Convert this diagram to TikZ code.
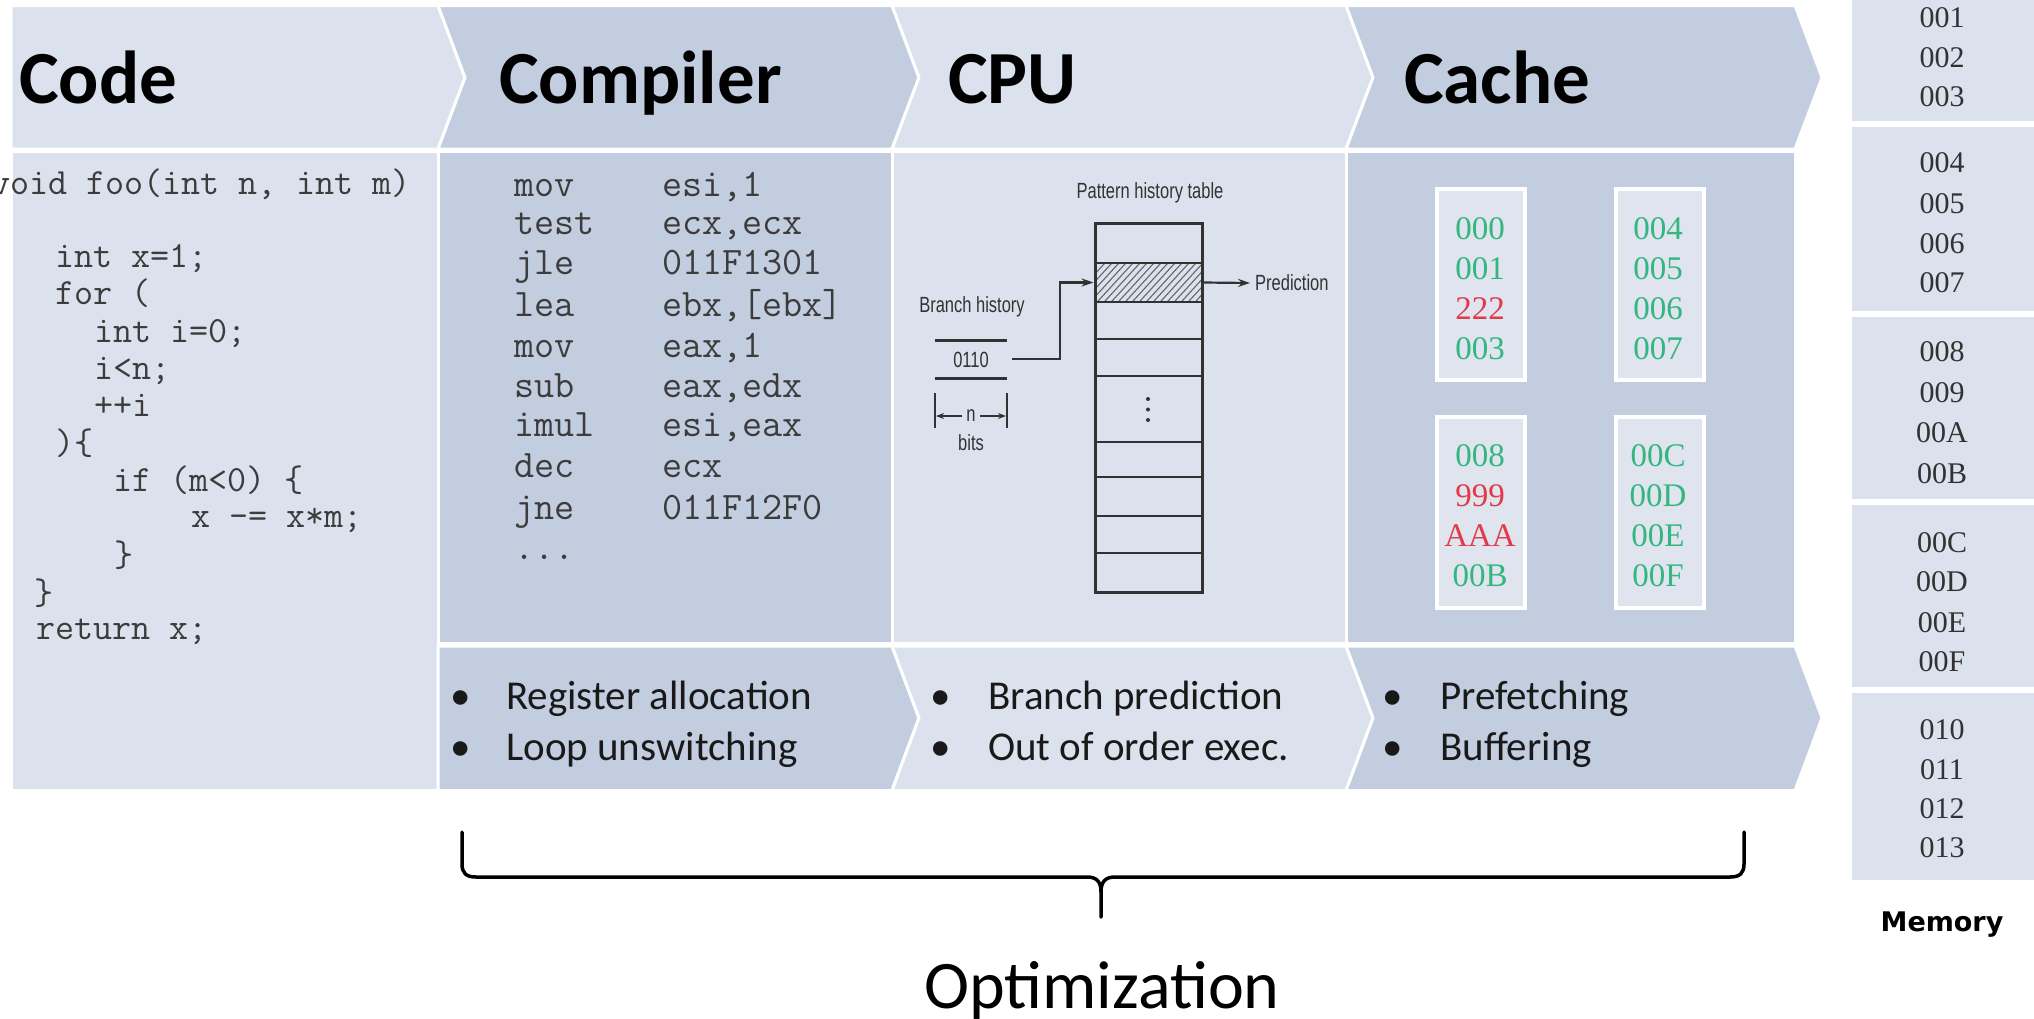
\documentclass[tikz,border=0pt]{standalone}
\usepackage{fontspec}
\setmainfont{Liberation Serif}
\newfontfamily\calibri{Carlito}
\newfontfamily\serifd{Liberation Serif}
\newfontfamily\verd{DejaVu Sans}
\newfontfamily\condsans[FakeStretch=0.75]{Liberation Sans}
\usetikzlibrary{arrows.meta}
\definecolor{lightpane}{RGB}{220,226,237}
\definecolor{darkpane}{RGB}{195,205,224}
\definecolor{boxfill}{RGB}{223,228,239}
\definecolor{codegray}{RGB}{60,60,60}
\definecolor{hexgreen}{RGB}{52,182,128}
\definecolor{hexred}{RGB}{226,58,72}
\definecolor{figgray}{RGB}{50,50,50}
\definecolor{memtext}{RGB}{50,50,50}
\begin{document}
\begin{tikzpicture}[x=1pt,y=-1pt,
  pane/.style={draw=white,line width=3pt,line join=miter},
  lightp/.style={pane,fill=lightpane},
  darkp/.style={pane,fill=darkpane},
  hdr/.style={anchor=base west,inner sep=0pt,text=black,font=\calibri\bfseries\fontsize{75}{90}\selectfont},
  codeline/.style={anchor=west,inner sep=0pt,text height=23pt,text depth=4.4pt,text=codegray,font=\ttfamily\fontsize{37}{43}\selectfont},
  asmline/.style={anchor=west,inner sep=0pt,text height=24pt,text depth=4.7pt,text=codegray,font=\ttfamily\fontsize{39}{45}\selectfont},
  bulletmark/.style={anchor=base west,inner sep=0pt,text=black!90,font=\calibri\fontsize{41}{49}\selectfont},
  bullettext/.style={anchor=base west,inner sep=0pt,text=black!90,font=\calibri\fontsize{41}{49}\selectfont},
  figlabel/.style={inner sep=0pt,text=figgray,font=\condsans\fontsize{22}{26}\selectfont},
  figline/.style={draw=figgray,line width=2.2pt},
  figarrow/.style={figline,-{Stealth[length=12pt,width=8pt]}},
  smallarrow/.style={draw=figgray,line width=1.5pt,-{Stealth[length=8pt,width=6pt]}},
  cachebox/.style={draw=white,line width=3.5pt,fill=boxfill,minimum width=88pt,minimum height=191pt,inner sep=0pt},
  hexnum/.style={inner sep=0pt,text height=22.4pt,text depth=0pt,font=\serifd\fontsize{33}{40}\selectfont},
  memblock/.style={fill=lightpane},
  memnum/.style={inner sep=0pt,text height=20.4pt,text depth=0pt,text=memtext,font=\serifd\fontsize{30}{36}\selectfont},
  bracestyle/.style={draw=black,line width=3.5pt,line cap=round,line join=round}
]
\useasboundingbox (0,0) rectangle (2034,1018);
\clip (0,0) rectangle (2034,1018);

% ---------- header row ----------
\path[lightp] (11,5.5) -- (438,5.5) -- (465,77.5) -- (438,149) -- (11,149) -- cycle;
\path[darkp] (438,5.5) -- (892,5.5) -- (919,77.5) -- (892,149) -- (438,149) -- (465,77.5) -- cycle;
\path[lightp] (892,5.5) -- (1346,5.5) -- (1373,77.5) -- (1346,149) -- (892,149) -- (919,77.5) -- cycle;
\path[darkp] (1346,5.5) -- (1795,5.5) -- (1822,77.5) -- (1795,149) -- (1346,149) -- (1373,77.5) -- cycle;

% ---------- content row ----------
\path[lightp] (11,151.5) rectangle (438,790.5);
\path[darkp] (438,151.5) rectangle (892,643.5);
\path[lightp] (892,151.5) rectangle (1346,643.5);
\path[darkp] (1346,151.5) rectangle (1795,643.5);

% ---------- bottom row ----------
\path[darkp] (438,646) -- (892,646) -- (919,718) -- (892,790.5) -- (438,790.5) -- cycle;
\path[lightp] (892,646) -- (1346,646) -- (1373,718) -- (1346,790.5) -- (892,790.5) -- (919,718) -- cycle;
\path[darkp] (1346,646) -- (1795,646) -- (1822,718) -- (1795,790.5) -- (1346,790.5) -- (1373,718) -- cycle;

% ---------- headers ----------
\node[hdr] (hcode) at (19,103) {Code};
\node[hdr] (hcomp) at (499,103) {Compiler};
\node[hdr] (hcpu) at (948,103) {CPU};
\node[hdr] (hcache) at (1404,103) {Cache};

% ---------- source code ----------
\node[codeline] (c1) at (-9,185) {void foo(int n, int m)};
\node[codeline] (c2) at (55,258) {int x=1;};
\node[codeline] (c3) at (55,295) {for (};
\node[codeline] (c4) at (94,333) {int i=0;};
\node[codeline] (c5) at (94,370) {i<n;};
\node[codeline] (c6) at (94,407) {++i};
\node[codeline] (c7) at (55,445) {)\{};
\node[codeline] (c8) at (113,482) {if (m<0) \{};
\node[codeline] (c9) at (191,518) {x -= x*m;};
\node[codeline] (c10) at (114,557) {\}};
\node[codeline] (c11) at (34,595) {\}};
\node[codeline] (c12) at (36,630) {return x;};

% ---------- assembly ----------
\foreach \m/\o/\yy [count=\i] in {mov/{esi,1}/187, test/{ecx,ecx}/225, jle/{011F1301}/265,
    lea/{ebx,[ebx]}/307, mov/{eax,1}/348, sub/{eax,edx}/388, imul/{esi,eax}/427,
    dec/{ecx}/468, jne/{011F12F0}/510}
{
  \node[asmline] (am\i) at (514,\yy) {\m};
  \node[asmline] (ao\i) at (662,\yy) {\o};
}
\node[asmline] (adots) at (514,550) {...};

% ---------- CPU: branch predictor ----------
\node[figlabel] (phtlabel) at (1150,193) {Pattern history table};
\begin{scope}
  \clip (1095,263) rectangle (1202,302);
  \foreach \k in {0,...,24} \draw[draw=figgray!75,line width=1.1pt] (1060+\k*7,312) -- ++(55,-60);
\end{scope}
\node[draw=figgray,line width=3pt,minimum width=107pt,minimum height=369pt,inner sep=0pt] (pht) at (1148.5,407.5) {};
\foreach \yy in {263,302,339,376,442,477,516,553} \draw[figline] (1095,\yy) -- (1202,\yy);
\foreach \yy in {399,409.5,420} \fill[figgray] (1148,\yy) circle (2pt);
\coordinate (hatchmid) at (1148.5,282.5);

\node[figlabel] (bhlabel) at (972,307) {Branch history};
\draw[figline,line width=3pt] (935,340) -- (1007,340);
\draw[figline,line width=3pt] (935,378) -- (1007,378);
\node[figlabel] (bhval) at (971,360) {0110};
\coordinate (bhout) at (1012,359);
\draw[figarrow] (bhout) -- (1060,359) |- (pht.west |- hatchmid);

\node[figlabel,anchor=west] (pred) at (1255,283) {Prediction};
\draw[figarrow] (pht.east |- hatchmid) -- ([xshift=-5pt]pred.west);

\draw[draw=figgray,line width=1.5pt] (935,393) -- (935,428);
\draw[draw=figgray,line width=1.5pt] (1007,393) -- (1007,428);
\node[figlabel,inner sep=4pt] (nlab) at (971,416) {n};
\coordinate (tickL) at (936,416);
\coordinate (tickR) at (1006,416);
\draw[smallarrow] (nlab.west) -- (tickL);
\draw[smallarrow] (nlab.east) -- (tickR);
\node[figlabel] (bits) at (971,443) {bits};

% ---------- cache ----------
\node[cachebox] (cbA) at (1481,284.5) {};
\node[cachebox] (cbB) at (1660,284.5) {};
\node[cachebox] (cbC) at (1481,512.5) {};
\node[cachebox] (cbD) at (1660,512.5) {};
\foreach \t/\c/\yy [count=\i] in {000/hexgreen/228, 001/hexgreen/268, 222/hexred/308, 003/hexgreen/348}
  \node[hexnum,text=\c] (hA\i) at (1480,\yy) {\t};
\foreach \t/\c/\yy [count=\i] in {004/hexgreen/228, 005/hexgreen/268, 006/hexgreen/308, 007/hexgreen/348}
  \node[hexnum,text=\c] (hB\i) at (1658,\yy) {\t};
\foreach \t/\c/\yy [count=\i] in {008/hexgreen/455, 999/hexred/495, AAA/hexred/535, 00B/hexgreen/575}
  \node[hexnum,text=\c] (hC\i) at (1480,\yy) {\t};
\foreach \t/\c/\yy [count=\i] in {00C/hexgreen/455, 00D/hexgreen/495, 00E/hexgreen/535, 00F/hexgreen/575}
  \node[hexnum,text=\c] (hD\i) at (1658,\yy) {\t};

% ---------- bullets ----------
\node[bulletmark] (bm1) at (450,709) {•};
\node[bullettext] (bt1) at (506,709) {Register allocation};
\node[bulletmark] (bm2) at (450,760) {•};
\node[bullettext] (bt2) at (506,760) {Loop unswitching};
\node[bulletmark] (bm3) at (930,709) {•};
\node[bullettext] (bt3) at (988,709) {Branch prediction};
\node[bulletmark] (bm4) at (930,760) {•};
\node[bullettext] (bt4) at (988,760) {Out of order exec.};
\node[bulletmark] (bm5) at (1382,709) {•};
\node[bullettext] (bt5) at (1440,709) {Prefetching};
\node[bulletmark] (bm6) at (1382,760) {•};
\node[bullettext] (bt6) at (1440,760) {Buffering};

% ---------- memory ----------
\fill[memblock] (1852,-5) rectangle (2040,121);
\fill[memblock] (1852,127) rectangle (2040,311);
\fill[memblock] (1852,317) rectangle (2040,499);
\fill[memblock] (1852,505) rectangle (2040,687);
\fill[memblock] (1852,693) rectangle (2040,880);
\foreach \t/\yy [count=\i] in {001/17, 002/57, 003/96, 004/162, 005/203, 006/243, 007/282,
    008/351, 009/392, 00A/432, 00B/473, 00C/542, 00D/581, 00E/622, 00F/661,
    010/729, 011/769, 012/808, 013/847}
  \node[memnum] (mem\i) at (1942,\yy) {\t};
\node[anchor=base,inner sep=0pt,font=\verd\bfseries\fontsize{27}{32}\selectfont] (memlabel) at (1942,931) {Memory};

% ---------- brace ----------
\draw[bracestyle] (462,832) -- (462,864) .. controls (462,873) and (466,877) .. (476,877)
   -- (1087,877) .. controls (1097,877) and (1101,882) .. (1101,892) -- (1101,917);
\draw[bracestyle] (1744,832) -- (1744,864) .. controls (1744,873) and (1740,877) .. (1730,877)
   -- (1115,877) .. controls (1105,877) and (1101,882) .. (1101,892);
\node[anchor=base,inner sep=0pt,font=\calibri\fontsize{68}{80}\selectfont] (optlabel) at (1102,1008) {Optimization};
\end{tikzpicture}
\end{document}
